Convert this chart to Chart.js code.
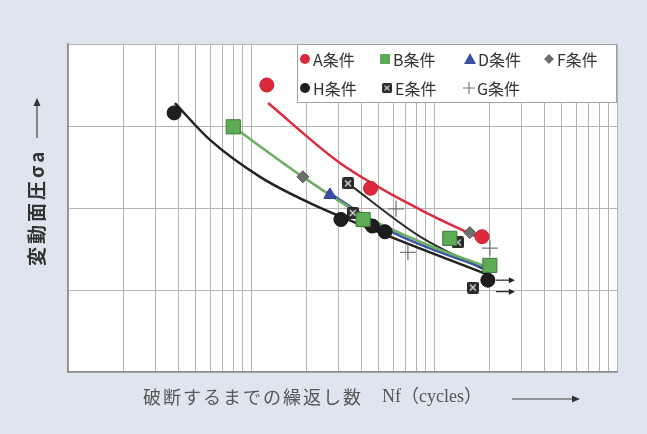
<!DOCTYPE html>
<html>
<head>
<meta charset="utf-8">
<script src="https://cdn.jsdelivr.net/npm/chart.js@4.4.1/dist/chart.umd.min.js"></script>
<style>
html, body { margin: 0; padding: 0; background: #dee5ee; }
#wrap { width: 647px; height: 434px; }
</style>
</head>
<body>
<div id="wrap"><canvas id="c" width="647" height="434"></canvas></div>
<script>
// measured points (cycles to failure, stress amplitude)
const aN = [1.22e5, 4.5e5, 1.83e6];
const aS = [350, 224, 165];
const bN = [8.0e4, 4.1e5, 1.22e6, 2.02e6];
const bS = [299, 186, 163, 130];
const dN = [2.7e5];
const dS = [216];
const fN = [1.92e5, 1.57e6];
const fS = [238, 170];
const hN = [3.8e4, 3.1e5, 4.6e5, 5.4e5, 1.97e6];
const hS = [316, 186, 178, 171, 112];
const eN = [3.39e5, 3.6e5, 1.35e6, 1.63e6];
const eS = [230, 194, 158, 103];
const gN = [6.2e5, 7.2e5, 2.02e6];
const gS = [199, 146, 151];

// trend curves
const aFitN = [1.24e5, 3.06e5, 8.4e5, 1.74e6];
const aFitS = [328, 255, 198, 164];
const bFitN = [8.0e4, 1.92e5, 4.1e5, 9.5e5, 2.02e6];
const bFitS = [299, 238, 191, 154, 127];
const dFitN = [2.6e5, 6.0e5, 2.02e6];
const dFitS = [220, 170, 124];
const eFitN = [3.39e5, 8.4e5, 2.0e6];
const eFitS = [230, 165, 122];
const hFitN = [3.84e4, 5.97e4, 1.12e5, 2.1e5, 5.07e5, 2.0e6];
const hFitS = [328, 283, 238, 206, 170, 118];

// run-outs (did not fail)
const runN = [1.97e6, 1.97e6];
const runS = [112, 98];

// axes: 3 log decades, stress grid every 100
const xDecades = [1e4, 1e5, 1e6];
const xMantissas = [1, 2, 3, 4, 5, 6, 7, 8, 9];
const xMin = 1e4, xMax = 1e7;
const yMin = 0, yMax = 400, yStep = 100;

const xTicks = [];
xDecades.forEach(d => xMantissas.forEach(m => xTicks.push(d * m)));
xTicks.push(xMax);

const pts = (n, s) => n.map((v, i) => ({ x: v, y: s[i] }));

function makeEMark() {
    const c = document.createElement('canvas');
    c.width = 12; c.height = 12;
    const g = c.getContext('2d');
    g.fillStyle = '#2a2a2a';
    g.beginPath();
    g.roundRect(0, 0, 12, 12, 2);
    g.fill();
    g.strokeStyle = '#dcdcdc';
    g.lineWidth = 1.4;
    g.beginPath();
    g.moveTo(3, 3); g.lineTo(9, 9);
    g.moveTo(9, 3); g.lineTo(3, 9);
    g.stroke();
    return c;
}
const eMark = makeEMark();

const series = [
    { label: 'A条件', n: aN, s: aS, style: 'circle', r: 7, fill: '#dc2a3c', stroke: '#c21d30', bw: 1 },
    { label: 'B条件', n: bN, s: bS, style: 'rect', r: 10, fill: '#5dab55', stroke: '#3d7a38', bw: 1 },
    { label: 'D条件', n: dN, s: dS, style: 'triangle', r: 7, fill: '#3b4ea6', stroke: '#2d3c86', bw: 1 },
    { label: 'F条件', n: fN, s: fS, style: 'rectRot', r: 6, fill: '#6e6e6e', stroke: '#555', bw: 1 },
    { label: 'H条件', n: hN, s: hS, style: 'circle', r: 7, fill: '#1e1e1e', stroke: '#111', bw: 1 },
    { label: 'E条件', n: eN, s: eS, style: eMark, r: 6, fill: '#2a2a2a', stroke: '#2a2a2a', bw: 1 },
    { label: 'G条件', n: gN, s: gS, style: 'cross', r: 8, fill: '#777', stroke: '#777', bw: 1.3 }
];

const fits = [
    { n: aFitN, s: aFitS, color: '#dc2a3c', w: 2.5 },
    { n: bFitN, s: bFitS, color: '#6aae60', w: 2.5 },
    { n: dFitN, s: dFitS, color: '#3b55a8', w: 2.5 },
    { n: eFitN, s: eFitS, color: '#2b2b2b', w: 2 },
    { n: hFitN, s: hFitS, color: '#222', w: 2.5 }
];

const datasets = [];
series.forEach(sr => datasets.push({
    label: sr.label,
    data: pts(sr.n, sr.s),
    showLine: false,
    pointStyle: sr.style,
    pointRadius: sr.r,
    pointBackgroundColor: sr.fill,
    pointBorderColor: sr.stroke,
    pointBorderWidth: sr.bw,
    order: 0
}));
fits.forEach(f => datasets.push({
    label: '',
    data: pts(f.n, f.s),
    borderColor: f.color,
    borderWidth: f.w,
    pointRadius: 0,
    cubicInterpolationMode: 'monotone',
    fill: false,
    order: 1
}));

function drawMark(ctx, sr, x, y, r) {
    ctx.save();
    ctx.fillStyle = sr.fill;
    ctx.strokeStyle = sr.stroke;
    ctx.lineWidth = 1;
    ctx.beginPath();
    if (sr.style === 'circle') {
        ctx.arc(x, y, r, 0, Math.PI * 2);
        ctx.fill();
    } else if (sr.style === 'rect') {
        ctx.rect(x - r, y - r, 2 * r, 2 * r);
        ctx.fill();
    } else if (sr.style === 'triangle') {
        ctx.moveTo(x, y - r - 1);
        ctx.lineTo(x + r + 1, y + r);
        ctx.lineTo(x - r - 1, y + r);
        ctx.closePath();
        ctx.fill();
    } else if (sr.style === 'rectRot') {
        ctx.moveTo(x, y - r); ctx.lineTo(x + r, y); ctx.lineTo(x, y + r); ctx.lineTo(x - r, y);
        ctx.closePath();
        ctx.fill();
    } else if (sr.style === 'cross') {
        ctx.lineWidth = 1.2;
        ctx.moveTo(x - r, y); ctx.lineTo(x + r, y);
        ctx.moveTo(x, y - r); ctx.lineTo(x, y + r);
        ctx.stroke();
    } else {
        ctx.drawImage(sr.style, x - r, y - r, 2 * r, 2 * r);
    }
    ctx.restore();
}

const deco = {
    id: 'deco',
    beforeDraw(chart) {
        const { ctx, chartArea: a } = chart;
        ctx.save();
        ctx.fillStyle = '#dee5ee';
        ctx.fillRect(0, 0, chart.width, chart.height);
        ctx.fillStyle = '#ffffff';
        ctx.fillRect(a.left, a.top, a.right - a.left, a.bottom - a.top);
        ctx.restore();
    },
    afterDatasetsDraw(chart) {
        const { ctx } = chart;
        const xs = chart.scales.x, ys = chart.scales.y;
        // run-out arrows
        ctx.save();
        ctx.strokeStyle = '#222';
        ctx.fillStyle = '#222';
        ctx.lineWidth = 1.2;
        runN.forEach((n, i) => {
            const x0 = xs.getPixelForValue(n) + 8;
            const y0 = ys.getPixelForValue(runS[i]);
            ctx.beginPath();
            ctx.moveTo(x0, y0); ctx.lineTo(x0 + 15, y0);
            ctx.stroke();
            ctx.beginPath();
            ctx.moveTo(x0 + 19, y0); ctx.lineTo(x0 + 13, y0 - 3); ctx.lineTo(x0 + 13, y0 + 3);
            ctx.closePath();
            ctx.fill();
        });
        ctx.restore();
    },
    afterDraw(chart) {
        const { ctx } = chart;
        // legend box
        ctx.save();
        ctx.fillStyle = '#ffffff';
        ctx.fillRect(297, 45, 319, 58);
        ctx.strokeStyle = '#a0a0a0';
        ctx.lineWidth = 1;
        ctx.strokeRect(297.5, 44.5, 319, 58);
        const cols = [[305, 59], [385, 59], [470, 59], [549, 59], [305, 88], [387, 88], [469, 88]];
        ctx.font = '16px "Noto Sans CJK JP", sans-serif';
        ctx.textBaseline = 'middle';
        series.forEach((sr, i) => {
            const [x, y] = cols[i];
            const r = sr.style === 'cross' ? 6 : 5;
            drawMark(ctx, sr, x, y, r);
            ctx.fillStyle = '#333';
            ctx.fillText(sr.label, x + 8, y + 1);
        });
        ctx.restore();

        // x axis title
        ctx.save();
        ctx.fillStyle = '#555';
        ctx.textBaseline = 'middle';
        ctx.font = '18px "Noto Sans CJK JP", sans-serif';
        ctx.letterSpacing = '2px';
        ctx.fillText('破断するまでの繰返し数', 143, 397);
        ctx.letterSpacing = '0px';
        ctx.font = '18px "Liberation Serif", "Noto Sans CJK JP", serif';
        ctx.fillText('Nf（cycles）', 382, 397);
        ctx.strokeStyle = '#444';
        ctx.lineWidth = 1.2;
        ctx.beginPath();
        ctx.moveTo(512, 399); ctx.lineTo(574, 399);
        ctx.stroke();
        ctx.fillStyle = '#333';
        ctx.beginPath();
        ctx.moveTo(580, 399); ctx.lineTo(572, 395.5); ctx.lineTo(572, 402.5);
        ctx.closePath();
        ctx.fill();
        ctx.restore();

        // y axis title
        ctx.save();
        ctx.translate(37, 266);
        ctx.rotate(-Math.PI / 2);
        ctx.fillStyle = '#333';
        ctx.textBaseline = 'middle';
        ctx.font = 'bold 19px "Noto Sans CJK JP", sans-serif';
        ctx.letterSpacing = '3px';
        ctx.fillText('変動面圧σa', 0, 0);
        ctx.restore();
        ctx.save();
        ctx.strokeStyle = '#444';
        ctx.lineWidth = 1.2;
        ctx.beginPath();
        ctx.moveTo(37, 138); ctx.lineTo(37, 104);
        ctx.stroke();
        ctx.fillStyle = '#333';
        ctx.beginPath();
        ctx.moveTo(37, 98); ctx.lineTo(33.5, 106); ctx.lineTo(40.5, 106);
        ctx.closePath();
        ctx.fill();
        ctx.restore();
    }
};

new Chart(document.getElementById('c'), {
    type: 'line',
    data: { datasets },
    options: {
        responsive: false,
        animation: false,
        devicePixelRatio: 1,
        layout: { padding: { left: 68, right: 30, top: 44, bottom: 62 } },
        plugins: { legend: { display: false }, tooltip: { enabled: false } },
        scales: {
            x: {
                type: 'logarithmic',
                min: xMin,
                max: xMax,
                afterBuildTicks: s => { s.ticks = xTicks.map(v => ({ value: v })); },
                ticks: { display: false },
                grid: { color: '#b4b4b4', lineWidth: 1, drawTicks: false },
                border: { color: '#8c8c8c', width: 1.5 }
            },
            y: {
                type: 'linear',
                min: yMin,
                max: yMax,
                ticks: { display: false, stepSize: yStep },
                grid: { color: '#b4b4b4', lineWidth: 1, drawTicks: false },
                border: { color: '#8c8c8c', width: 1.5 }
            }
        }
    },
    plugins: [deco]
});
</script>
</body>
</html>
